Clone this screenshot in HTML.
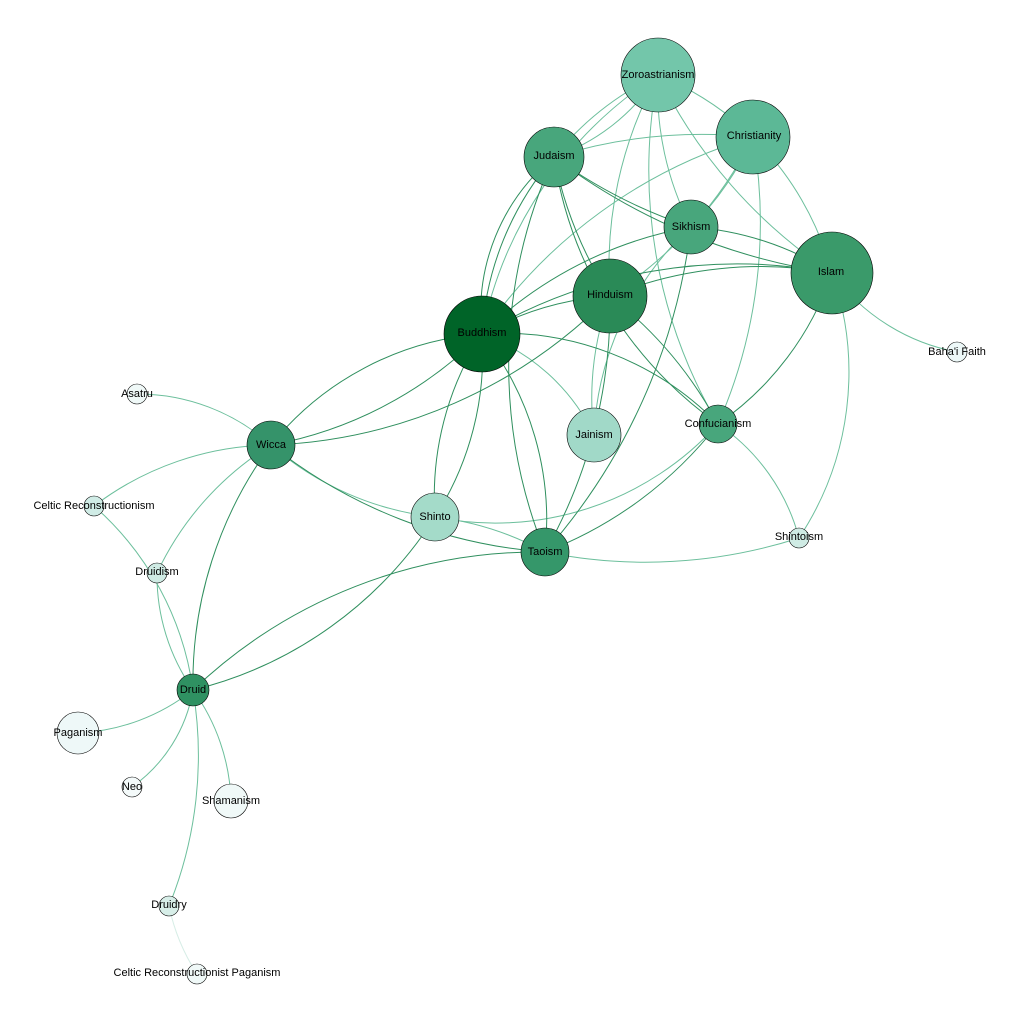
<!DOCTYPE html>
<html><head><meta charset="utf-8"><style>
html,body{margin:0;padding:0;background:#fff;width:1024px;height:1024px;overflow:hidden}
svg text{font-family:"Liberation Sans",sans-serif;font-size:11px;fill:#000;text-anchor:middle;dominant-baseline:central}
</style></head><body>
<svg width="1024" height="1024" viewBox="0 0 1024 1024" xmlns="http://www.w3.org/2000/svg">
<g fill="none" stroke-width="1">
<g stroke="#6cbf9c">
<path d="M658 75 A300 300 0 0 0 554 157"/>
<path d="M658 75 A200 200 0 0 1 554 157"/>
<path d="M658 75 A400 400 0 0 0 482 334"/>
<path d="M658 75 A400 400 0 0 0 610 296"/>
<path d="M658 75 A300 300 0 0 1 753 137"/>
<path d="M658 75 A300 300 0 0 0 691 227"/>
<path d="M658 75 A500 500 0 0 0 832 273"/>
<path d="M658 75 A500 500 0 0 0 718 424"/>
<path d="M753 137 A500 500 0 0 0 554 157"/>
<path d="M753 137 A500 500 0 0 0 482 334"/>
<path d="M753 137 A300 300 0 0 1 691 227"/>
<path d="M753 137 A300 300 0 0 1 832 273"/>
<path d="M753 137 A400 400 0 0 1 610 296"/>
<path d="M753 137 A500 500 0 0 1 718 424"/>
<path d="M832 273 A200 200 0 0 0 957 352"/>
<path d="M832 273 A300 300 0 0 1 799 538"/>
<path d="M718 424 A200 200 0 0 1 799 538"/>
<path d="M545 552 A500 500 0 0 0 799 538"/>
<path d="M271 445 A200 200 0 0 0 137 394"/>
<path d="M271 445 A300 300 0 0 0 94 506"/>
<path d="M271 445 A300 300 0 0 0 157 573"/>
<path d="M271 445 A300 300 0 0 0 435 517"/>
<path d="M94 506 A300 300 0 0 1 193 690"/>
<path d="M157 573 A200 200 0 0 0 193 690"/>
<path d="M193 690 A200 200 0 0 1 78 733"/>
<path d="M193 690 A150 150 0 0 1 132 787"/>
<path d="M193 690 A200 200 0 0 1 231 801"/>
<path d="M193 690 A400 400 0 0 1 169 906"/>
<path d="M594 435 A300 300 0 0 1 610 296"/>
<path d="M482 334 A200 200 0 0 1 594 435"/>
<path d="M435 517 A300 300 0 0 0 718 424"/>
<path d="M435 517 A300 300 0 0 1 545 552"/>
<path d="M691 227 A300 300 0 0 0 594 435"/>
</g>
<path stroke="#d6ede6" d="M169 906 A200 200 0 0 0 197 974"/>
<g stroke="#2f8f5e">
<path d="M554 157 A300 300 0 0 0 482 334"/>
<path d="M554 157 A200 200 0 0 0 482 334"/>
<path d="M554 157 A400 400 0 0 0 610 296"/>
<path d="M554 157 A500 500 0 0 0 691 227"/>
<path d="M554 157 A600 600 0 0 0 832 273"/>
<path d="M554 157 A400 400 0 0 0 718 424"/>
<path d="M554 157 A500 500 0 0 0 545 552"/>
<path d="M691 227 A400 400 0 0 0 482 334"/>
<path d="M691 227 A300 300 0 0 1 832 273"/>
<path d="M691 227 A600 600 0 0 1 545 552"/>
<path d="M610 296 A400 400 0 0 1 832 273"/>
<path d="M482 334 A500 500 0 0 1 832 273"/>
<path d="M482 334 A300 300 0 0 1 610 296"/>
<path d="M610 296 A400 400 0 0 1 718 424"/>
<path d="M610 296 A500 500 0 0 1 545 552"/>
<path d="M610 296 A500 500 0 0 1 271 445"/>
<path d="M482 334 A400 400 0 0 1 271 445"/>
<path d="M482 334 A300 300 0 0 0 271 445"/>
<path d="M482 334 A300 300 0 0 1 718 424"/>
<path d="M482 334 A300 300 0 0 0 435 517"/>
<path d="M482 334 A300 300 0 0 1 545 552"/>
<path d="M718 424 A400 400 0 0 1 545 552"/>
<path d="M718 424 A300 300 0 0 0 832 273"/>
<path d="M271 445 A500 500 0 0 0 545 552"/>
<path d="M271 445 A400 400 0 0 0 193 690"/>
<path d="M435 517 A400 400 0 0 1 193 690"/>
<path d="M545 552 A500 500 0 0 0 193 690"/>
<path d="M482 334 A300 300 0 0 1 435 517"/>
</g>
</g>
<g stroke="#000" stroke-width="0.6">
<circle cx="658" cy="75" r="37" fill="#73c6aa"/>
<circle cx="753" cy="137" r="37" fill="#5cb896"/>
<circle cx="554" cy="157" r="30" fill="#48a67c"/>
<circle cx="691" cy="227" r="27" fill="#48a67c"/>
<circle cx="832" cy="273" r="41" fill="#3a9a6a"/>
<circle cx="610" cy="296" r="37" fill="#2a8a57"/>
<circle cx="482" cy="334" r="38" fill="#006428"/>
<circle cx="957" cy="352" r="10" fill="#edf8f8"/>
<circle cx="137" cy="394" r="10" fill="#f0f9f8"/>
<circle cx="271" cy="445" r="24" fill="#35936a"/>
<circle cx="594" cy="435" r="27" fill="#a1d9c8"/>
<circle cx="718" cy="424" r="19" fill="#48a67c"/>
<circle cx="94" cy="506" r="10" fill="#d0ece6"/>
<circle cx="435" cy="517" r="24" fill="#a4dbc9"/>
<circle cx="545" cy="552" r="24" fill="#35976a"/>
<circle cx="799" cy="538" r="10" fill="#cfebe4"/>
<circle cx="157" cy="573" r="10" fill="#cfebe4"/>
<circle cx="193" cy="690" r="16" fill="#2f9162"/>
<circle cx="78" cy="733" r="21" fill="#eef8f8"/>
<circle cx="132" cy="787" r="10" fill="#f4fafa"/>
<circle cx="231" cy="801" r="17" fill="#f0f9f8"/>
<circle cx="169" cy="906" r="10" fill="#d7eee8"/>
<circle cx="197" cy="974" r="10" fill="#f0f9f8"/>
</g>
<text x="658" y="75">Zoroastrianism</text>
<text x="754" y="136">Christianity</text>
<text x="554" y="156">Judaism</text>
<text x="691" y="227">Sikhism</text>
<text x="831" y="272">Islam</text>
<text x="610" y="295">Hinduism</text>
<text x="482" y="333">Buddhism</text>
<text x="957" y="352">Baha'i Faith</text>
<text x="137" y="394">Asatru</text>
<text x="271" y="445">Wicca</text>
<text x="594" y="435">Jainism</text>
<text x="718" y="424">Confucianism</text>
<text x="94" y="506">Celtic Reconstructionism</text>
<text x="435" y="517">Shinto</text>
<text x="545" y="552">Taoism</text>
<text x="799" y="537">Shintoism</text>
<text x="157" y="572">Druidism</text>
<text x="193" y="690">Druid</text>
<text x="78" y="733">Paganism</text>
<text x="132" y="787">Neo</text>
<text x="231" y="801">Shamanism</text>
<text x="169" y="905">Druidry</text>
<text x="197" y="973">Celtic Reconstructionist Paganism</text>
</svg>
</body></html>
